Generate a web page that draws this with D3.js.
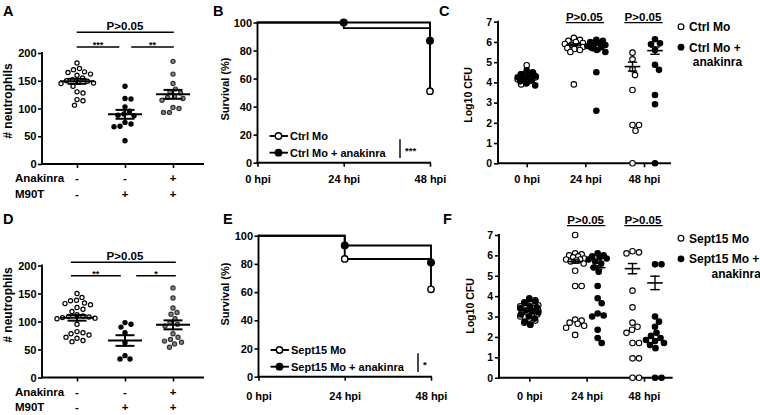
<!DOCTYPE html>
<html><head><meta charset="utf-8">
<script src="https://cdn.jsdelivr.net/npm/d3@7"></script>
<style>
body{margin:0;background:#fff;}
svg text{font-family:"Liberation Sans",Arial,Helvetica,sans-serif;font-weight:bold;fill:#000;}
</style></head><body>
<svg id="c" width="760" height="415" style="background:#fff"></svg>
<script>
// ---------------- DATA ----------------
const conditions = ["Ctrl", "M90T", "M90T + Anakinra"];
const anakinraRow = ["-", "-", "+"];
const m90tRow = ["-", "+", "+"];
const neutroTicks = [0, 50, 100, 150, 200];

const neutroA_ctrl = [182, 172, 170, 166, 165, 162, 160, 155, 152, 150, 149, 147, 146, 145, 140, 130, 128, 116, 114, 106];
const neutroA_m90t = [140, 118, 117, 103, 95, 90, 88, 87, 75, 72, 68, 67, 42];
const neutroA_ana = [185, 162, 145, 135, 130, 128, 122, 120, 118, 115, 102, 100, 93, 93];
const neutroA_mean = [149, 89.5, 125.5];
const neutroA_sem = [4.5, 8, 8];

const neutroD_ctrl = [150, 143, 138, 137, 133, 132, 130, 125, 122, 118, 112, 110, 109, 108, 107, 106, 105, 95, 82, 80, 78, 76, 72, 70, 66, 64];
const neutroD_m90t = [98, 95, 90, 80, 62, 39, 33, 33];
const neutroD_ana = [160, 142, 124, 116, 113, 105, 98, 95, 92, 78, 72, 68, 65, 63, 60, 54];
const neutroD_mean = [106.5, 66, 94];
const neutroD_sem = [5, 9.5, 8];

const sigA = ["***", "**", "P>0.05"];
const sigD = ["**", "*", "P>0.05"];

const survTimes = [0, 24, 48];
const timeLabels = ["0 hpi", "24 hpi", "48 hpi"];
const survTicks = [0, 20, 40, 60, 80, 100];
const survB_ctrl = [100, 96, 51];
const survB_ana = [100, 100, 87];
const survB_ctrlMarks = [2];
const survB_anaMarks = [1, 2];
const survE_ctrl = [100, 83.5, 62];
const survE_ana = [100, 93, 81];
const survE_ctrlMarks = [1, 2];
const survE_anaMarks = [1, 2];
const survB_names = ["Ctrl Mo", "Ctrl Mo + anakinra"];
const survE_names = ["Sept15 Mo", "Sept15 Mo + anakinra"];
const survB_sig = "***";
const survE_sig = "*";

const cfuTicks = [0, 1, 2, 3, 4, 5, 6, 7];
const cfuC_ctrl_0 = [4.85, 4.5, 4.45, 4.4, 4.3, 4.25, 4.2, 4.15, 4.1, 4.0, 3.9];
const cfuC_ana_0 = [4.6, 4.5, 4.4, 4.35, 4.3, 4.25, 4.2, 4.1, 4.05, 3.95, 3.85];
const cfuC_ctrl_24 = [6.2, 6.1, 6.05, 6.0, 5.95, 5.9, 5.85, 5.8, 5.75, 5.7, 5.65, 5.6, 5.5, 3.9];
const cfuC_ana_24 = [6.1, 6.05, 6.0, 5.95, 5.9, 5.85, 5.8, 5.75, 5.7, 5.6, 5.5, 4.5, 2.6];
const cfuC_ctrl_48 = [5.47, 5.14, 4.65, 4.36, 3.62, 1.89, 1.89, 1.61, 0];
const cfuC_ana_48 = [6.13, 5.93, 5.88, 5.6, 4.87, 4.62, 3.38, 2.92, 0];
const cfuC_ctrlMean = [4.3, 5.85, 4.78];
const cfuC_ctrlSem = [0.05, 0.05, 0.22];
const cfuC_anaMean = [4.3, 5.64, 5.57];
const cfuC_anaSem = [0.05, 0.08, 0.18];
const cfuC_names = ["Ctrl Mo", "Ctrl Mo +", "anakinra"];

const cfuF_ctrl_0 = [3.9, 3.8, 3.7, 3.6, 3.55, 3.5, 3.45, 3.4, 3.35, 3.3, 3.25, 3.2, 3.15, 3.1, 3.0, 2.9, 2.8, 2.7, 2.6];
const cfuF_ana_0 = [3.85, 3.75, 3.65, 3.5, 3.45, 3.4, 3.3, 3.25, 3.2, 3.1, 3.0, 2.9, 2.75, 2.6];
const cfuF_ctrl_24 = [7.0, 6.1, 6.05, 6.0, 5.95, 5.9, 5.85, 5.8, 5.8, 5.75, 5.7, 5.6, 5.25, 4.5, 4.5, 2.85, 2.8, 2.7, 2.65, 2.55, 2.45, 2.1];
const cfuF_ana_24 = [6.1, 6.0, 5.95, 5.9, 5.85, 5.8, 5.7, 5.6, 5.4, 5.2, 4.5, 3.9, 3.65, 3.15, 3.05, 3.0, 2.35, 1.95, 1.7];
const cfuF_ctrl_48 = [6.2, 6.15, 6.1, 4.27, 3.45, 2.7, 2.5, 2.35, 2.2, 1.7, 1.7, 0.95, 0.95, 0, 0];
const cfuF_ana_48 = [5.56, 5.56, 3.0, 2.75, 2.5, 2.2, 2.05, 1.95, 1.85, 1.8, 1.7, 1.6, 1.45, 0, 0];
const cfuF_ctrlMean = [3.35, 5.7, 5.35];
const cfuF_ctrlSem = [0.05, 0.08, 0.25];
const cfuF_anaMean = [3.3, 5.4, 4.65];
const cfuF_anaSem = [0.05, 0.08, 0.33];
const cfuF_names = ["Sept15 Mo", "Sept15 Mo +", "anakinra"];
const cfuSig = ["P>0.05", "P>0.05"];

// ---------------- DRAWING ----------------
const svg = d3.select("#c");

function txt(x, y, s, size, anchor) {
  return svg.append("text").attr("x", x).attr("y", y).attr("text-anchor", anchor || "start")
    .style("font-size", size + "px").text(s);
}
function vtxt(x, y, s, size) {
  return svg.append("text").attr("transform", `translate(${x},${y}) rotate(-90)`)
    .attr("text-anchor", "middle").style("font-size", size + "px").text(s);
}
function line(x1, y1, x2, y2, w) {
  return svg.append("line").attr("x1", x1).attr("y1", y1).attr("x2", x2).attr("y2", y2)
    .attr("stroke", "#000").attr("stroke-width", w || 1.8).attr("stroke-linecap", "square");
}
function swarm(vals, y, cx, dist, maxW) {
  const pts = vals.map(v => ({ v, y: y(v) }));
  const order = pts.slice().sort((a, b) => a.y - b.y);
  const placed = [];
  for (const p of order) {
    let bestOff = 0, bestD = -1;
    for (let k = 0; ; k++) {
      const off = (k % 2 === 1 ? 1 : -1) * Math.ceil(k / 2) * 0.5;
      if (Math.abs(off) > maxW) break;
      let md = Infinity;
      for (const q of placed) {
        const d = Math.hypot(q.x - (cx + off), q.y - p.y);
        if (d < md) md = d;
      }
      if (md >= dist) { bestOff = off; bestD = md; break; }
      if (md > bestD) { bestD = md; bestOff = off; }
    }
    p.x = cx + bestOff;
    placed.push(p);
  }
  return pts;
}
function yAxis(x, scale, ticks, fs, pad) {
  const g = svg.append("g").attr("transform", `translate(${x},0)`)
    .call(d3.axisLeft(scale).tickValues(ticks).tickFormat(d3.format("d"))
      .tickSize(4).tickPadding(pad).tickSizeOuter(0));
  g.select(".domain").remove();
  g.selectAll("line").attr("stroke", "#000").attr("stroke-width", 1.6);
  g.selectAll("text").style("font-size", fs + "px");
  const r = scale.range();
  line(x, r[0], x, r[1], 1.9);
}
function xAxis(y, scale, ticks, labels, fs, x0, x1, baseOff) {
  const g = svg.append("g").attr("transform", `translate(0,${y})`)
    .call(d3.axisBottom(scale).tickValues(ticks).tickSize(4).tickSizeOuter(0)
      .tickFormat(labels ? (d, i) => labels[i] : () => ""));
  g.select(".domain").remove();
  g.selectAll("line").attr("stroke", "#000").attr("stroke-width", 1.6);
  g.selectAll("text").attr("y", baseOff).attr("dy", 0).style("font-size", fs + "px");
  line(x0, y, x1, y, 1.9);
}
const styles = [
  { fill: "#fff", stroke: "#000" },
  { fill: "#000", stroke: "#000" },
  { fill: "#858585", stroke: "#333" }
];

// ---- neutrophil panels (A, D)
function neutroPanel(o) {
  const y = d3.scaleLinear().domain([0, 200]).range([o.yB, o.yT]);
  const x = d3.scalePoint().domain(conditions).range([77, 173]);
  yAxis(42, y, neutroTicks, 11, 1.5);
  xAxis(o.yB, x, conditions, null, 11, 42, 203, 0);
  o.groups.forEach((vals, i) => {
    const pts = swarm(vals, y, x(conditions[i]), 6.0, 20);
    svg.append("g").selectAll("circle").data(pts).join("circle")
      .attr("cx", d => d.x).attr("cy", d => d.y).attr("r", 2.1)
      .attr("fill", styles[i].fill).attr("stroke", styles[i].stroke).attr("stroke-width", 1.2);
  });
  o.means.forEach((m, i) => {
    const cx = x(conditions[i]);
    line(cx - 16, y(m), cx + 16, y(m), 2);
    line(cx - 8.5, y(m + o.sems[i]), cx + 8.5, y(m + o.sems[i]), 2);
    line(cx - 8.5, y(m - o.sems[i]), cx + 8.5, y(m - o.sems[i]), 2);
    line(cx, y(m - o.sems[i]), cx, y(m + o.sems[i]), 2);
  });
  // significance
  line(o.pL, o.pY, o.pR, o.pY, 1.6);
  txt(125, o.pY - 2.5, o.sig[2], 11.5, "middle");
  line(o.pL, o.s1Y, o.s1R, o.s1Y, 1.6);
  txt((o.pL + o.s1R) / 2, o.s1Y + 1, o.sig[0], 9, "middle");
  line(o.s2L, o.s1Y, o.pR, o.s1Y, 1.6);
  txt((o.s2L + o.pR) / 2, o.s1Y + 1, o.sig[1], 9, "middle");
  // rows
  txt(15, o.row1, "Anakinra", 11.5);
  txt(15, o.row2, "M90T", 11.5);
  conditions.forEach((c, i) => {
    txt(x(c), o.row1, anakinraRow[i], 11.5, "middle");
    txt(x(c), o.row2, m90tRow[i], 11.5, "middle");
  });
  vtxt(12, o.labY, "# neutrophils", 12);
  txt(3, o.letY, o.letter, 14.5);
}
neutroPanel({ yB: 164, yT: 53, groups: [neutroA_ctrl, neutroA_m90t, neutroA_ana],
  means: neutroA_mean, sems: neutroA_sem, sig: sigA,
  pL: 77.5, pR: 173, pY: 32.3, s1Y: 47, s1R: 118.5, s2L: 132,
  row1: 181.5, row2: 198, labY: 101, letter: "A", letY: 15.5 });
neutroPanel({ yB: 377.5, yT: 265.5, groups: [neutroD_ctrl, neutroD_m90t, neutroD_ana],
  means: neutroD_mean, sems: neutroD_sem, sig: sigD,
  pL: 71.7, pR: 175, pY: 262.3, s1Y: 275.7, s1R: 120, s2L: 137,
  row1: 395.7, row2: 411, labY: 305, letter: "D", letY: 223.5 });

// ---- survival panels (B, E)
function survPanel(o) {
  const x = d3.scaleLinear().domain([0, 48]).range([o.x0, o.x1]);
  const y = d3.scaleLinear().domain([0, 100]).range([o.yB, o.yT]);
  yAxis(o.x0, y, survTicks, 11, 1.5);
  xAxis(o.yB, x, survTimes, timeLabels, 11, o.x0, o.x1, o.tickBase);
  const ln = d3.line().x((d, i) => x(survTimes[i])).y(d => y(d)).curve(d3.curveStepAfter);
  [o.ctrl, o.ana].forEach(s => {
    svg.append("path").attr("d", ln(s)).attr("fill", "none").attr("stroke", "#000").attr("stroke-width", 1.9);
  });
  o.ctrlMarks.forEach(i => svg.append("circle").attr("cx", x(survTimes[i])).attr("cy", y(o.ctrl[i]))
    .attr("r", 3.2).attr("fill", "#fff").attr("stroke", "#000").attr("stroke-width", 1.4));
  o.anaMarks.forEach(i => svg.append("circle").attr("cx", x(survTimes[i])).attr("cy", y(o.ana[i]))
    .attr("r", 3.4).attr("fill", "#000").attr("stroke", "#000").attr("stroke-width", 1.2));
  // legend
  const ly = [o.yB - 26.7, o.yB - 10];
  o.names.forEach((n, i) => {
    line(o.x0 + 13, ly[i], o.x0 + 29.5, ly[i], 1.9);
    svg.append("circle").attr("cx", o.x0 + 21).attr("cy", ly[i]).attr("r", 3.2)
      .attr("fill", i ? "#000" : "#fff").attr("stroke", "#000").attr("stroke-width", 1.4);
    txt(o.x0 + 32.5, ly[i] + 4, n, 11);
  });
  line(o.sigX, ly[0] + 4, o.sigX, ly[1] + 4.5, 1.4);
  txt(o.sigX + 5, ly[1] + 1.5, o.sig, 9.5);
  vtxt(229, o.labY, "Survival (%)", 11);
  txt(o.letX, o.letY, o.letter, 14.5);
}
survPanel({ x0: 257.5, x1: 430, yB: 162.7, yT: 22.5, ctrl: survB_ctrl, ana: survB_ana,
  ctrlMarks: survB_ctrlMarks, anaMarks: survB_anaMarks, names: survB_names, sig: survB_sig,
  sigX: 400, tickBase: 183.5 - 162.7, labY: 89, letter: "B", letX: 213, letY: 15.5 });
survPanel({ x0: 258.5, x1: 431, yB: 376.7, yT: 235.7, ctrl: survE_ctrl, ana: survE_ana,
  ctrlMarks: survE_ctrlMarks, anaMarks: survE_anaMarks, names: survE_names, sig: survE_sig,
  sigX: 418, tickBase: 400 - 376.7, labY: 294, letter: "E", letX: 223, letY: 223.5 });

// ---- CFU panels (C, F)
function cfuPanel(o) {
  const y = d3.scaleLinear().domain([0, 7]).range([o.yB, o.yT]);
  const x = d3.scalePoint().domain(timeLabels).range([o.c0, o.c2]);
  yAxis(o.ax, y, cfuTicks, 10.5, 2);
  xAxis(o.yB, x, timeLabels, timeLabels, 11, o.ax, o.axEnd, o.tickBase);
  const offs = [[0, 0], [-11.5, 11], [-11.5, 11]];
  const groups = [o.ctrl, o.ana];
  [0, 1].forEach(gi => {
    groups[gi].forEach((vals, ti) => {
      const cx = x(timeLabels[ti]) + offs[ti][gi];
      const pts = swarm(vals, y, cx, 6.2, 9);
      svg.append("g").selectAll("circle").data(pts).join("circle")
        .attr("cx", d => d.x).attr("cy", d => d.y).attr("r", 2.75)
        .attr("fill", gi ? "#000" : "#fff").attr("stroke", "#000").attr("stroke-width", 1.1);
    });
  });
  [[o.ctrlMean, o.ctrlSem], [o.anaMean, o.anaSem]].forEach(([mean, sem], gi) => {
    mean.forEach((m, ti) => {
      const cx = x(timeLabels[ti]) + offs[ti][gi];
      line(cx - 7, y(m), cx + 7, y(m), 1.6);
      line(cx - 4, y(m + sem[ti]), cx + 4, y(m + sem[ti]), 1.4);
      line(cx - 4, y(m - sem[ti]), cx + 4, y(m - sem[ti]), 1.4);
      line(cx, y(m - sem[ti]), cx, y(m + sem[ti]), 1.4);
    });
  });
  o.sig.forEach((s, i) => {
    const cx = x(timeLabels[i + 1]);
    txt(cx - 1, o.sigY - 2, s, 11.5, "middle");
    line(cx - 19, o.sigY, cx + 18, o.sigY, 1.3);
  });
  // legend
  const lx = 681;
  svg.append("circle").attr("cx", lx).attr("cy", o.legY).attr("r", 2.9)
    .attr("fill", "#fff").attr("stroke", "#000").attr("stroke-width", 1.2);
  svg.append("circle").attr("cx", lx).attr("cy", o.legY + 20.5).attr("r", 3.4).attr("fill", "#000");
  txt(689, o.legY + 4.3, o.names[0], 12);
  const t2 = txt(689, o.legY + 24.8, o.names[1], 12);
  const end = 689 + t2.node().getComputedTextLength();
  txt(end + 1.5, o.legY + 39.5, o.names[2], 12, "end");
  vtxt(o.labX, o.labY, "Log10 CFU", 10.5);
  txt(o.letX, o.letY, o.letter, 14.5);
}
cfuPanel({ ax: 498, axEnd: 670, yB: 163.3, yT: 21.7, c0: 526.7, c2: 644,
  ctrl: [cfuC_ctrl_0, cfuC_ctrl_24, cfuC_ctrl_48], ana: [cfuC_ana_0, cfuC_ana_24, cfuC_ana_48],
  ctrlMean: cfuC_ctrlMean, ctrlSem: cfuC_ctrlSem, anaMean: cfuC_anaMean, anaSem: cfuC_anaSem,
  sig: cfuSig, sigY: 22.7, names: cfuC_names, legY: 26.7, tickBase: 183.5 - 163.3,
  labX: 472, labY: 95, letter: "C", letX: 439, letY: 15.5 });
cfuPanel({ ax: 499, axEnd: 671.7, yB: 377.7, yT: 235, c0: 529.3, c2: 644,
  ctrl: [cfuF_ctrl_0, cfuF_ctrl_24, cfuF_ctrl_48], ana: [cfuF_ana_0, cfuF_ana_24, cfuF_ana_48],
  ctrlMean: cfuF_ctrlMean, ctrlSem: cfuF_ctrlSem, anaMean: cfuF_anaMean, anaSem: cfuF_anaSem,
  sig: cfuSig, sigY: 225.7, names: cfuF_names, legY: 238.3, tickBase: 400 - 377.7,
  labX: 474, labY: 306, letter: "F", letX: 443, letY: 224 });
</script>
</body></html>
